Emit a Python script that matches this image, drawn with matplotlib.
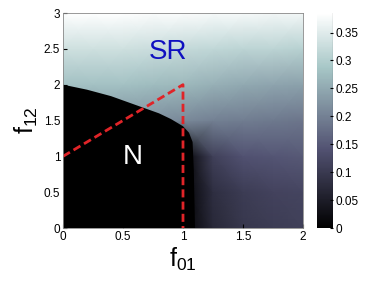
import numpy as np
import matplotlib
matplotlib.use("Agg")
import matplotlib.pyplot as plt

plt.rcParams['font.family'] = ['Liberation Sans', 'DejaVu Sans']
plt.rcParams['mathtext.fontset'] = 'custom'
plt.rcParams['mathtext.rm'] = 'Liberation Sans'
plt.rcParams['mathtext.it'] = 'Liberation Sans'

# grid
f01 = [0, 0.25, 0.5, 0.75, 1.0, 1.25, 1.5, 1.75, 2.0]
f12 = [0, 0.5, 1.0, 1.5, 2.0, 2.5, 3.0]
vals = [
    [0, 0, 0, 0, 0, 0.07, 0.095, 0.105, 0.11],
    [0, 0, 0, 0, 0, 0.08, 0.105, 0.115, 0.12],
    [0, 0, 0, 0, 0, 0.11, 0.14, 0.145, 0.15],
    [0.22, 0.22, 0.22, 0.22, 0.21, 0.20, 0.195, 0.19, 0.185],
    [0.28, 0.28, 0.28, 0.275, 0.27, 0.26, 0.25, 0.245, 0.24],
    [0.33, 0.33, 0.33, 0.325, 0.32, 0.315, 0.31, 0.31, 0.305],
    [0.385, 0.385, 0.385, 0.38, 0.38, 0.375, 0.375, 0.37, 0.37],
]

# edge of the black N region
edge_x = [0, 0, 0.2, 0.4, 0.6, 0.8, 0.9, 1.0, 1.05, 1.08, 1.09, 1.1]
edge_y = [0, 2.0, 1.93, 1.84, 1.72, 1.6, 1.52, 1.42, 1.33, 1.2, 0.8, 0]

# red dashed guide
guide_x = [0, 1, 1]
guide_y = [1, 2, 0]

fig = plt.figure(figsize=(3.83, 2.81), dpi=100)
ax = fig.add_axes([0.1645, 0.1886, 0.6266, 0.7651])
cax = fig.add_axes([0.8277, 0.1886, 0.042, 0.7651])

X, Y = np.meshgrid(f01, f12)
pc = ax.pcolormesh(X, Y, np.array(vals), cmap='bone', vmin=0, vmax=0.385,
                   shading='gouraud')
ax.fill(edge_x, edge_y, color='black', lw=0)
ax.plot(guide_x, guide_y, color='#e02428', lw=2, ls=(0, (2.9, 1.5)))

ax.text(0.875, 2.45, 'SR', color='#1010c0', fontsize=20, ha='center', va='center')
ax.text(0.58, 0.99, 'N', color='white', fontsize=20, ha='center', va='center')

ax.set_xlim(0, 2)
ax.set_ylim(0, 3)
ax.set_xticks([0, 0.5, 1, 1.5, 2])
ax.set_xticklabels(['0', '0.5', '1', '1.5', '2'])
ax.set_yticks([0, 0.5, 1, 1.5, 2, 2.5, 3])
ax.set_yticklabels(['0', '0.5', '1', '1.5', '2', '2.5', '3'])
ax.tick_params(direction='in', length=3, labelsize=8.5, pad=2)
ax.set_xlabel(r'$\mathrm{f}_{01}$', fontsize=18, labelpad=2)
ax.set_ylabel(r'$\mathrm{f}_{12}$', fontsize=18, labelpad=3)
for s in ax.spines.values():
    s.set_color('#888888')
    s.set_linewidth(0.6)

cb = fig.colorbar(pc, cax=cax)
cb.set_ticks([0, 0.05, 0.1, 0.15, 0.2, 0.25, 0.3, 0.35])
cb.set_ticklabels(['0', '0.05', '0.1', '0.15', '0.2', '0.25', '0.3', '0.35'])
cax.tick_params(direction='in', length=2, labelsize=8.5, pad=2)
cb.outline.set_visible(False)
cax.axvline(1, color='black', lw=0.8)

fig.savefig('out.png', dpi=100)
